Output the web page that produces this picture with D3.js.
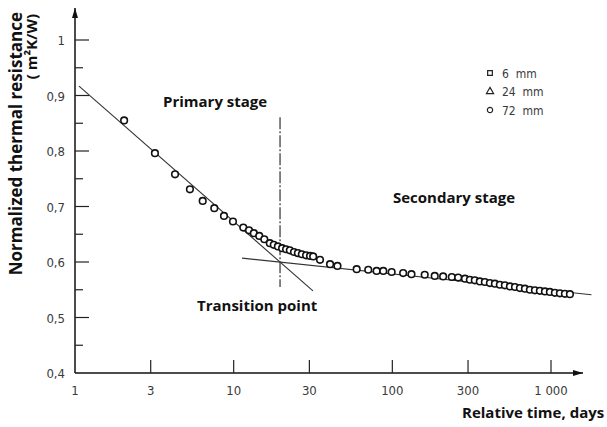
<!DOCTYPE html>
<html lang="en">
<head>
<meta charset="UTF-8">
<title>Normalized thermal resistance vs relative time</title>
<script src="https://cdn.jsdelivr.net/npm/d3@7/dist/d3.min.js"></script>
<style>
  body { margin: 0; background: #fff; }
  .tick-label { font-family: "DejaVu Sans Condensed", "DejaVu Sans", sans-serif; font-stretch: condensed; font-size: 13px; fill: #3a3a3a; }
  .bold-label { font-family: "Open Sans", "Noto Sans", sans-serif; font-weight: bold; fill: #111; }
</style>
</head>
<body>
<script type="application/javascript">

    let w = 607, h = 427;

    // tick values / labels
    let xTicks = [3, 10, 30, 100, 300, 1000];
    let xTickLabels = ['1', '3', '10', '30', '100', '300', '1 000'];
    let xLabelValues = [1, 3, 10, 30, 100, 300, 1000];
    let yMajor = [0.4, 0.5, 0.6, 0.7, 0.8, 0.9, 1.0];
    let yMinor = [0.45, 0.55, 0.65, 0.75, 0.85, 0.95];
    let yTickLabels = ['0,4', '0,5', '0,6', '0,7', '0,8', '0,9', '1'];

    // measured points (relative time in days, normalized resistance)
    let days = [2.04, 3.19, 4.27, 5.30, 6.38, 7.55, 8.69, 9.90, 11.5, 12.5, 13.4, 14.5, 15.6,
        16.9, 17.9, 19.0, 20.2, 21.4, 22.6, 24.0, 25.4, 26.9, 28.6, 30.3, 31.7,
        35.0, 40.5, 45.1, 59.6, 70.5, 79.6, 87.7, 99, 117, 132, 160, 185, 209, 237, 260,
        287, 308, 331, 356, 383, 412, 443, 476, 512, 551, 593, 637, 685, 736, 792, 851, 916, 984,
        1058, 1138, 1224, 1316];
    let resistance = [0.855, 0.796, 0.758, 0.731, 0.710, 0.697, 0.683, 0.673, 0.662, 0.657, 0.652, 0.647, 0.641,
        0.634, 0.631, 0.628, 0.625, 0.623, 0.621, 0.618, 0.616, 0.614, 0.612, 0.611, 0.610,
        0.604, 0.596, 0.593, 0.587, 0.586, 0.584, 0.584, 0.582, 0.580, 0.578, 0.577, 0.575, 0.574, 0.573, 0.572,
        0.570, 0.568, 0.567, 0.565, 0.564, 0.562, 0.561, 0.559, 0.558, 0.556, 0.555, 0.553, 0.552, 0.550, 0.549, 0.548, 0.547, 0.546,
        0.5445, 0.5436, 0.5427, 0.542];

    // fitted lines and transition marker
    let primaryFit = [[1.06, 0.917], [31.6, 0.548]];
    let secondaryFit = [[11.3, 0.607], [1800, 0.541]];
    let transitionDay = 19.6;
    let transitionRange = [0.555, 0.861];

    let legendLabels = ['6  mm', '24  mm', '72  mm'];
    let legendSymbols = [d3.symbolSquare, d3.symbolTriangle, d3.symbolCircle];

    let x = d3.scaleLog().domain([1, 1000]).range([75, 551]);
    let y = d3.scaleLinear().domain([0.4, 1]).range([373, 40]);

    let svg = d3.select('body')
        .append('svg')
        .attr('width', w)
        .attr('height', h);

    // axes lines with arrows
    svg.append('defs').append('marker')
        .attr('id', 'arrow')
        .attr('viewBox', '0 0 10 6')
        .attr('refX', 10).attr('refY', 3)
        .attr('markerWidth', 10).attr('markerHeight', 6)
        .attr('markerUnits', 'userSpaceOnUse')
        .attr('orient', 'auto')
        .append('path')
        .attr('d', 'M0,0 L10,3 L0,6 Z')
        .attr('fill', '#111');

    svg.append('line')
        .attr('x1', x(1)).attr('y1', y(0.4))
        .attr('x2', x(1)).attr('y2', 8)
        .attr('stroke', '#111').attr('stroke-width', 1.5)
        .attr('marker-end', 'url(#arrow)');

    svg.append('line')
        .attr('x1', x(1)).attr('y1', y(0.4))
        .attr('x2', 583).attr('y2', y(0.4))
        .attr('stroke', '#111').attr('stroke-width', 1.5)
        .attr('marker-end', 'url(#arrow)');

    // y ticks (pointing inward)
    svg.selectAll('line.ymajor')
        .data(yMajor.slice(1))
        .enter().append('line')
        .attr('class', 'ymajor')
        .attr('x1', x(1)).attr('x2', x(1) + 14)
        .attr('y1', d => y(d)).attr('y2', d => y(d))
        .attr('stroke', '#222').attr('stroke-width', 1.2);

    svg.selectAll('line.yminor')
        .data(yMinor)
        .enter().append('line')
        .attr('class', 'yminor')
        .attr('x1', x(1)).attr('x2', x(1) + 8)
        .attr('y1', d => y(d)).attr('y2', d => y(d))
        .attr('stroke', '#222').attr('stroke-width', 1.2);

    svg.selectAll('text.ylab')
        .data(yMajor)
        .enter().append('text')
        .attr('class', 'ylab tick-label')
        .attr('x', 65)
        .attr('y', d => y(d) + 5)
        .attr('text-anchor', 'end')
        .text((d, i) => yTickLabels[i]);

    // x ticks (pointing up)
    svg.selectAll('line.xtick')
        .data(xTicks)
        .enter().append('line')
        .attr('class', 'xtick')
        .attr('x1', d => x(d)).attr('x2', d => x(d))
        .attr('y1', y(0.4)).attr('y2', y(0.4) - 13)
        .attr('stroke', '#222').attr('stroke-width', 1.2);

    svg.selectAll('text.xlab')
        .data(xLabelValues)
        .enter().append('text')
        .attr('class', 'xlab tick-label')
        .attr('x', d => x(d))
        .attr('y', 395)
        .attr('text-anchor', 'middle')
        .text((d, i) => xTickLabels[i]);

    // fitted lines
    let line = d3.line().x(d => x(d[0])).y(d => y(d[1]));

    [primaryFit, secondaryFit].forEach(p => {
        svg.append('path')
            .attr('d', line(p))
            .attr('fill', 'none')
            .attr('stroke', '#333')
            .attr('stroke-width', 1.1);
    });

    // transition (dash-dot) line
    svg.append('line')
        .attr('x1', x(transitionDay)).attr('x2', x(transitionDay))
        .attr('y1', y(transitionRange[1])).attr('y2', y(transitionRange[0]))
        .attr('stroke', '#333').attr('stroke-width', 1.2)
        .attr('stroke-dasharray', '12,2,2,2');

    // data points
    svg.selectAll('circle.pt')
        .data(days)
        .enter().append('circle')
        .attr('class', 'pt')
        .attr('cx', d => x(d))
        .attr('cy', (d, i) => y(resistance[i]))
        .attr('r', 3.3)
        .attr('fill', '#fff')
        .attr('stroke', '#111')
        .attr('stroke-width', 1.6);

    // legend
    let legend = svg.selectAll('g.legend')
        .data(legendLabels)
        .enter().append('g')
        .attr('class', 'legend')
        .attr('transform', (d, i) => 'translate(490,' + (73 + i * 18.5) + ')');

    legend.append('path')
        .attr('d', (d, i) => d3.symbol().type(legendSymbols[i]).size(22)())
        .attr('fill', 'none')
        .attr('stroke', '#222')
        .attr('stroke-width', 1.2);

    legend.append('text')
        .attr('class', 'tick-label')
        .attr('x', 12)
        .attr('y', 4.5)
        .style('font-size', '12px')
        .style('white-space', 'pre')
        .attr('xml:space', 'preserve')
        .text(d => d);

    // annotations
    let notes = [
        { t: 'Primary stage', x: 163, y: 107, s: 15 },
        { t: 'Secondary stage', x: 393, y: 203, s: 15 },
        { t: 'Transition point', x: 197, y: 311, s: 15 },
        { t: 'Relative time, days', x: 462, y: 418, s: 15 }
    ];
    svg.selectAll('text.note')
        .data(notes)
        .enter().append('text')
        .attr('class', 'note bold-label')
        .attr('x', d => d.x)
        .attr('y', d => d.y)
        .style('font-size', d => d.s + 'px')
        .text(d => d.t);

    // y axis title
    svg.append('text')
        .attr('class', 'bold-label')
        .attr('transform', 'translate(22,12) rotate(-90)')
        .attr('text-anchor', 'end')
        .style('font-size', '17px')
        .text('Normalized thermal resistance');

    svg.append('text')
        .attr('class', 'bold-label')
        .attr('transform', 'translate(37,14) rotate(-90)')
        .attr('text-anchor', 'end')
        .style('font-size', '15px')
        .style('white-space', 'pre')
        .text('( m²K/W)');

</script>
</body>
</html>
